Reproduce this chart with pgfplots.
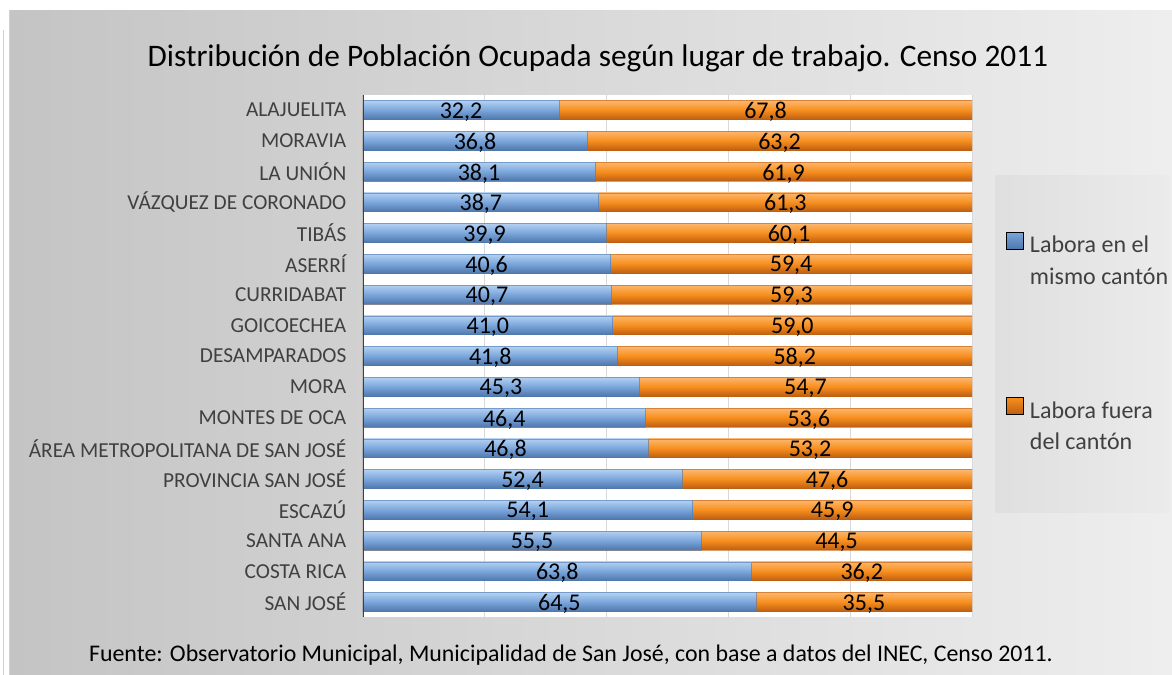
\documentclass[border=0pt]{standalone}
\usepackage{pgfplots}
\pgfplotsset{compat=1.18}
\usepackage{pgfplotstable}
\usepackage{fontspec}
\setmainfont{Carlito}

\definecolor{bluetop}{HTML}{B2D0F2}
\definecolor{bluemid}{HTML}{7BA6DB}
\definecolor{bluebot}{HTML}{4F78AD}
\definecolor{orgtop}{HTML}{FDB66C}
\definecolor{orgmid}{HTML}{F78F1E}
\definecolor{orgbot}{HTML}{BF5F12}
\definecolor{bgleft}{HTML}{C4C4C4}
\definecolor{bgright}{HTML}{EEEEEE}
\definecolor{legbg}{HTML}{EBEBEB}
\definecolor{txt}{HTML}{404040}

\pgfplotstableread{
idx blue orange
0 32.2 67.8
1 36.8 63.2
2 38.1 61.9
3 38.7 61.3
4 39.9 60.1
5 40.6 59.4
6 40.7 59.3
7 41.0 59.0
8 41.8 58.2
9 45.3 54.7
10 46.4 53.6
11 46.8 53.2
12 52.4 47.6
13 54.1 45.9
14 55.5 44.5
15 63.8 36.2
16 64.5 35.5
}\data

\begin{document}
\begin{tikzpicture}[x=0.75pt,y=-0.75pt]
\useasboundingbox (0,0) rectangle (1172,675);
\fill[white] (0,0) rectangle (1172,675);
\shade[left color=bgleft, right color=bgright] (9,10) rectangle (1172,675);
\draw[gray!35, line width=0.6pt] (3,30) -- (3,675);
\draw[gray!35, line width=0.6pt] (9,10) -- (9,675);
\shade[left color=legbg!95!black, right color=legbg] (995,175) rectangle (1170,512);
\node[font=\fontsize{23.5}{27}\selectfont, text=black] at (598,58) {Distribución de Población Ocupada según lugar de trabajo. Censo 2011};
\node[font=\fontsize{17.9}{20}\selectfont, text=black] at (571,655) {Fuente: Observatorio Municipal, Municipalidad de San José, con base a datos del INEC, Censo 2011.};
\begin{axis}[
  at={(272.25pt,-70.95pt)}, anchor=north west,
  scale only axis, width=456.75pt, height=392.06pt,
  xmin=0, xmax=100, ymin=-0.5, ymax=16.5, y dir=reverse,
  axis background/.style={fill=white},
  axis line style={draw=none},
  xtick={0,20,...,100}, xticklabels={}, xmajorgrids,
  grid style={gray!30, line width=0.6pt},
  major tick length=0pt,
  ytick={0,...,16},
  yticklabels={ALAJUELITA, MORAVIA, LA UNIÓN, VÁZQUEZ DE CORONADO, TIBÁS, ASERRÍ, CURRIDABAT, GOICOECHEA, DESAMPARADOS, MORA, MONTES DE OCA, ÁREA METROPOLITANA DE SAN JOSÉ, PROVINCIA SAN JOSÉ, ESCAZÚ, SANTA ANA, COSTA RICA, SAN JOSÉ},
  yticklabel style={font=\fontsize{16}{18}\selectfont, text=txt, xshift=-9pt},
  /pgf/number format/use comma, /pgf/number format/fixed,
  /pgf/number format/fixed zerofill, /pgf/number format/precision=1,
  /pgf/number format/assume math mode=true,
  legend style={at={(axis description cs:1.049,0.75)}, anchor=north west,
    draw=none, fill=none, row sep=102pt, font=\fontsize{18}{23.5}\selectfont, text=txt,
    cells={anchor=base west},
    /tikz/every odd column/.append style={column sep=3pt}},
  legend cell align=left,
]
\pgfplotsinvokeforeach{0,...,16}{
\addplot[xbar, forget plot, bar width=14pt, bar shift=0pt, draw=orgbot, draw opacity=0.6, line width=0.4pt,
  top color=orgtop, bottom color=orgbot, middle color=orgmid,
  restrict y to domain=#1:#1]
  table[x expr=\thisrow{blue}+\thisrow{orange}, y=idx] {\data};
\addplot[xbar, forget plot, bar width=14pt, bar shift=0pt, draw=bluebot, draw opacity=0.6, line width=0.4pt,
  top color=bluetop, bottom color=bluebot, middle color=bluemid,
  restrict y to domain=#1:#1]
  table[x=blue, y=idx] {\data};
}
\addplot[forget plot, draw=none, mark=none, nodes near coords, point meta=explicit,
  every node near coord/.append style={anchor=center, yshift=-1.5pt, font=\fontsize{18}{20}\selectfont, text=black}]
  table[x expr=\thisrow{blue}/2, y=idx, meta=blue] {\data};
\addplot[forget plot, draw=none, mark=none, nodes near coords, point meta=explicit,
  every node near coord/.append style={anchor=center, yshift=-1.5pt, font=\fontsize{18}{20}\selectfont, text=black}]
  table[x expr=\thisrow{blue}+\thisrow{orange}/2, y=idx, meta=orange] {\data};
\draw[line width=1.5pt, black!75] (axis cs:0,-0.5) -- (axis cs:0,16.5);
\addlegendimage{legend image code/.code={\shade[top color=bluemid, bottom color=bluebot] (0pt,-4.5pt) rectangle (12.5pt,8pt);}}
\addlegendentry{\begin{tabular}[t]{@{}l@{}}Labora en el\\mismo cantón\end{tabular}}
\addlegendimage{legend image code/.code={\shade[top color=orgmid, bottom color=orgbot] (0pt,-4.5pt) rectangle (12.5pt,8pt);}}
\addlegendentry{\begin{tabular}[t]{@{}l@{}}Labora fuera\\del cantón\end{tabular}}
\end{axis}
\end{tikzpicture}
\end{document}
